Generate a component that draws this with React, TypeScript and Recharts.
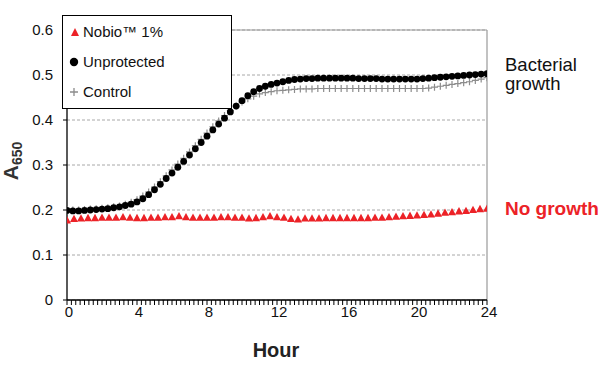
import React from 'react';
import {
  LineChart, Line, XAxis, YAxis, CartesianGrid, ReferenceLine, Label, Customized,
} from 'recharts';

// time in minutes
const growthMinutes = [
  0, 20, 40, 60, 80, 100, 120, 140, 160, 180, 200, 220, 240, 260, 280, 300, 320, 340, 360, 380,
  400, 420, 440, 460, 480, 500, 520, 540, 560, 580, 600, 620, 640, 660, 680, 700, 720, 740, 760, 780,
  800, 820, 840, 860, 880, 900, 920, 940, 960, 980, 1000, 1020, 1040, 1060, 1080, 1100, 1120, 1140, 1160, 1180,
  1200, 1220, 1240, 1260, 1280, 1300, 1320, 1340, 1360, 1380, 1400, 1420, 1440,
];
const unprotectedValues = [
  0.199, 0.198, 0.198, 0.199, 0.200, 0.201, 0.202, 0.203, 0.205, 0.207, 0.210, 0.213, 0.218, 0.225, 0.234, 0.245, 0.257, 0.270, 0.282, 0.295,
  0.308, 0.322, 0.336, 0.350, 0.364, 0.378, 0.391, 0.404, 0.418, 0.431, 0.443, 0.454, 0.463, 0.470, 0.475, 0.479, 0.482, 0.485, 0.488, 0.490,
  0.491, 0.492, 0.492, 0.493, 0.493, 0.493, 0.493, 0.493, 0.493, 0.493, 0.492, 0.492, 0.492, 0.492, 0.491, 0.491, 0.491, 0.491, 0.491, 0.491,
  0.491, 0.492, 0.493, 0.494, 0.495, 0.496, 0.497, 0.498, 0.499, 0.500, 0.501, 0.502, 0.503,
];
const controlValues = [
  0.200, 0.200, 0.200, 0.201, 0.202, 0.203, 0.204, 0.205, 0.207, 0.209, 0.213, 0.217, 0.223, 0.231, 0.240, 0.251, 0.263, 0.276, 0.289, 0.302,
  0.315, 0.329, 0.343, 0.357, 0.371, 0.385, 0.398, 0.410, 0.421, 0.431, 0.440, 0.447, 0.453, 0.458, 0.461, 0.463, 0.465, 0.466, 0.467, 0.468,
  0.469, 0.469, 0.469, 0.470, 0.470, 0.470, 0.470, 0.470, 0.470, 0.470, 0.470, 0.470, 0.470, 0.470, 0.470, 0.470, 0.470, 0.470, 0.470, 0.470,
  0.470, 0.470, 0.471, 0.473, 0.475, 0.477, 0.479, 0.481, 0.483, 0.485, 0.488, 0.491, 0.494,
];
const nobioMinutes = [
  0, 24, 48, 72, 96, 120, 144, 168, 192, 216, 240, 264, 288, 312, 336, 360, 384, 408, 432, 456,
  480, 504, 528, 552, 576, 600, 624, 648, 672, 696, 720, 744, 768, 792, 816, 840, 864, 888, 912, 936,
  960, 984, 1008, 1032, 1056, 1080, 1104, 1128, 1152, 1176, 1200, 1224, 1248, 1272, 1296, 1320, 1344, 1368, 1392, 1416,
  1440,
];
const nobioValues = [
  0.178, 0.181, 0.182, 0.183, 0.183, 0.184, 0.184, 0.184, 0.185, 0.184, 0.183, 0.183, 0.184, 0.184, 0.185, 0.185, 0.187, 0.185, 0.184, 0.184,
  0.184, 0.184, 0.185, 0.185, 0.184, 0.184, 0.182, 0.183, 0.185, 0.187, 0.185, 0.184, 0.181, 0.180, 0.182, 0.182, 0.182, 0.183, 0.183, 0.183,
  0.183, 0.183, 0.183, 0.183, 0.184, 0.184, 0.185, 0.186, 0.187, 0.188, 0.189, 0.190, 0.191, 0.193, 0.195, 0.196, 0.198, 0.199, 0.201, 0.203,
  0.204,
];

const seriesNames = ['Nobio™ 1%', 'Unprotected', 'Control'];
const majorTickStep = 240;
const minorTicks = Array.from({ length: 97 }, (_, i) => i * 15);
const yTicks = [0, 0.1, 0.2, 0.3, 0.4, 0.5, 0.6];

const unprotectedData = growthMinutes.map((t, i) => ({ t, v: unprotectedValues[i] }));
const controlData = growthMinutes.map((t, i) => ({ t, v: controlValues[i] }));
const nobioData = nobioMinutes.map((t, i) => ({ t, v: nobioValues[i] }));

const FONT = 'Arial, "Liberation Sans", Helvetica, sans-serif';
const RED = '#ec2227';
const GRAY = '#8c8c8c';

const CircleDot = (p: any) => {
  if (p.cx == null || p.cy == null) return <g key={p.key ?? p.index} />;
  return <circle key={p.key ?? `c${p.index}`} cx={p.cx} cy={p.cy} r={3.4} fill="#000" />;
};
const TriDot = (p: any) => {
  if (p.cx == null || p.cy == null) return <g key={p.key ?? p.index} />;
  const { cx, cy } = p;
  return (
    <path key={p.key ?? `t${p.index}`} d={`M${cx - 4},${cy + 3.5}L${cx + 4},${cy + 3.5}L${cx},${cy - 3.8}Z`} fill={RED} />
  );
};
const PlusDot = (p: any) => {
  if (p.cx == null || p.cy == null) return <g key={p.key ?? p.index} />;
  const { cx, cy } = p;
  return (
    <path key={p.key ?? `p${p.index}`} d={`M${cx - 3.5},${cy}H${cx + 3.5}M${cx},${cy - 3.5}V${cy + 3.5}`} stroke={GRAY} strokeWidth={1.2} fill="none" />
  );
};

const XTick = (p: any) => {
  const { x, y, payload } = p;
  if (payload.value % majorTickStep !== 0) return <g />;
  return (
    <text x={x + 2} y={y + 10} textAnchor="middle" fontFamily={FONT} fontSize={15} fill="#111">
      {payload.value / 60}
    </text>
  );
};

const LegendBox = () => (
  <svg
    width={170}
    height={94}
    style={{ position: 'absolute', left: 62, top: 15, display: 'block' }}
    fontFamily={FONT}
  >
    <rect x={0.5} y={0.5} width={169} height={93} fill="#fff" stroke="#000" strokeWidth={1} />
    <path d="M9,21L17,21L13,13Z" fill={RED} />
    <text x={21} y={22} fontSize={15} fill="#111">{seriesNames[0]}</text>
    <circle cx={12} cy={47} r={4.2} fill="#000" />
    <text x={21} y={52} fontSize={15} fill="#111">{seriesNames[1]}</text>
    <path d="M8,77H16M12,73V81" stroke={GRAY} strokeWidth={1.3} />
    <text x={21} y={82} fontSize={15} fill="#111">{seriesNames[2]}</text>
  </svg>
);

const Annotations = () => (
  <g fontFamily={FONT}>
    <text x={505} y={71} fontSize={18.5} fill="#111">Bacterial</text>
    <text x={505} y={90} fontSize={18.5} fill="#111">growth</text>
    <text x={505} y={215} fontSize={19} fontWeight="bold" fill={RED}>No growth</text>
  </g>
);

export default function App() {
  return (
    <div style={{ position: 'absolute', left: 0, top: 0, width: 600, height: 365, background: '#fff' }}>
      <LineChart width={600} height={365} margin={{ top: 30, right: 113, bottom: 0, left: 0 }}>
        <CartesianGrid horizontal vertical={false} stroke="#a8a8a8" strokeDasharray="3 2" />
        <XAxis
          dataKey="t"
          type="number"
          domain={[0, 1440]}
          ticks={minorTicks}
          interval={0}
          allowDataOverflow
          height={65}
          tickSize={5}
          tickLine={{ stroke: '#000', strokeWidth: 1 }}
          axisLine={{ stroke: '#000', strokeWidth: 1.3 }}
          tick={<XTick />}
        >
          <Label
            content={() => (
              <text x={276} y={357} textAnchor="middle" fontFamily={FONT} fontSize={20} fontWeight="bold" fill="#222">
                Hour
              </text>
            )}
          />
        </XAxis>
        <YAxis
          type="number"
          domain={[0, 0.6]}
          ticks={yTicks}
          width={67}
          tickSize={4}
          tickMargin={10}
          tickLine={{ stroke: '#000' }}
          axisLine={{ stroke: '#000', strokeWidth: 1.3 }}
          tick={{ fontFamily: FONT, fontSize: 15, fill: '#111' }}
          tickFormatter={(v: number) => (v === 0 ? '0' : v.toFixed(1))}
        >
          <Label
            content={() => (
              <text transform="translate(18,161) rotate(-90)" textAnchor="middle" fontFamily={FONT} fontWeight="bold" fill="#333">
                <tspan fontSize={21}>A</tspan>
                <tspan fontSize={14} dy={4}>650</tspan>
              </text>
            )}
          />
        </YAxis>
        <ReferenceLine y={0.6} stroke="#999" strokeWidth={1} />
        <ReferenceLine x={1440} stroke="#999" strokeWidth={1.2} />
        <Line data={controlData} dataKey="v" name={seriesNames[2]} stroke="none" isAnimationActive={false} dot={PlusDot} activeDot={false} />
        <Line data={unprotectedData} dataKey="v" name={seriesNames[1]} stroke="none" isAnimationActive={false} dot={CircleDot} activeDot={false} />
        <Line data={nobioData} dataKey="v" name={seriesNames[0]} stroke="none" isAnimationActive={false} dot={TriDot} activeDot={false} />
        <Customized component={Annotations} />
      </LineChart>
      <LegendBox />
    </div>
  );
}
